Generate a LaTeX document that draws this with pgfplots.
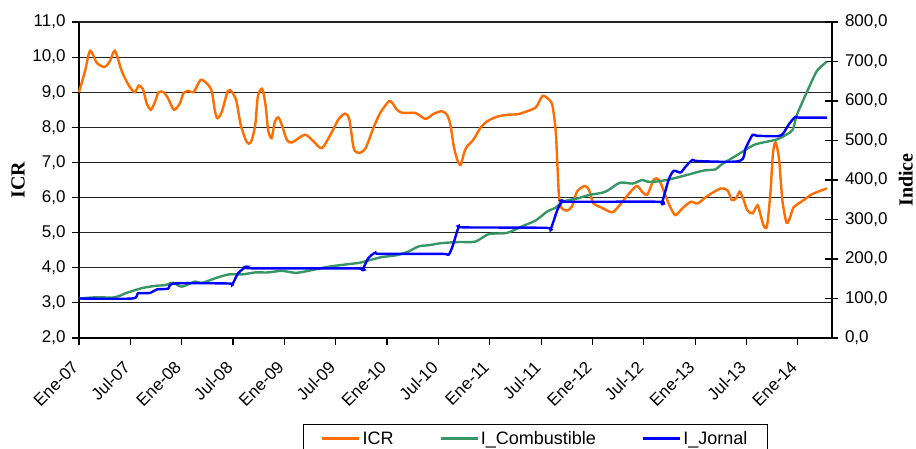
\documentclass[border=0pt]{standalone}
\usepackage{pgfplots}
\pgfplotsset{compat=1.18}
\usepackage{fontspec}
\setmainfont{Liberation Sans}
\newfontfamily\titlefont{Liberation Serif}
\definecolor{cicr}{RGB}{255,108,0}
\definecolor{ccomb}{RGB}{55,150,100}
\definecolor{cjor}{RGB}{0,0,255}
\newcommand{\tickfont}{\fontsize{17}{20}\selectfont}
\newcommand{\legfont}{\fontsize{18}{21}\selectfont}
\newcommand{\ttlfont}{\titlefont\bfseries\fontsize{20}{24}\selectfont}

\pgfplotstableread{
m v
0 9.0
0.7 9.6
1.3 10.18
2.1 9.83
3.0 9.72
3.6 9.88
4.2 10.18
5.0 9.6
5.8 9.2
6.5 9.0
7.0 9.19
7.5 9.07
7.9 8.69
8.4 8.5
8.9 8.74
9.3 9.0
9.9 9.0
10.4 8.83
11.1 8.5
11.8 8.69
12.2 8.97
12.8 9.04
13.4 9.0
14.2 9.35
14.9 9.26
15.5 9.04
15.9 8.45
16.2 8.26
16.7 8.45
17.4 9.04
17.9 9.0
18.4 8.74
18.9 8.07
19.6 7.58
20.1 7.58
20.6 8.07
20.9 8.88
21.4 9.1
21.8 8.64
22.1 7.93
22.5 7.69
22.9 8.17
23.3 8.28
23.7 8.07
24.3 7.64
24.9 7.57
26.4 7.79
27.4 7.6
28.4 7.41
29.6 7.89
30.3 8.22
31.1 8.39
31.6 8.22
32.1 7.41
32.7 7.27
33.5 7.41
34.4 7.98
35.2 8.41
36.2 8.74
36.6 8.7
37.2 8.49
37.9 8.41
39.3 8.41
40.5 8.24
41.4 8.38
42.4 8.46
43.0 8.36
43.4 8.08
43.8 7.46
44.2 7.08
44.6 6.93
45.0 7.27
45.3 7.44
46.1 7.65
46.9 7.98
47.7 8.17
48.8 8.30
50.1 8.36
51.4 8.38
53.3 8.55
53.7 8.7
54.2 8.9
54.7 8.84
55.3 8.65
55.7 7.93
55.9 6.98
56.1 6.03
56.4 5.70
57.0 5.63
57.6 5.74
58.2 6.17
59.1 6.33
59.6 6.22
60.1 5.84
61.1 5.71
62.3 5.58
63.1 5.76
64.3 6.12
65.2 6.33
65.8 6.17
66.4 6.08
67.2 6.52
67.8 6.50
68.5 6.08
69.1 5.73
69.7 5.5
70.5 5.69
71.5 5.88
72.3 5.83
73.4 6.04
75.0 6.26
75.8 6.2
76.3 5.93
76.8 5.98
77.2 6.17
77.6 5.98
78.1 5.64
78.7 5.55
79.3 5.78
79.6 5.55
80.0 5.21
80.4 5.18
80.8 6.12
81.1 7.26
81.4 7.57
81.8 7.12
82.2 5.93
82.7 5.28
83.2 5.5
83.5 5.72
84.7 5.93
85.7 6.1
87.4 6.26
}\icrdata

\pgfplotstableread{
m v
0 100
1.9 103
4.2 103
5.4 113
7.3 126
8.9 132
10.1 134
11.0 140
12.0 130
13.6 143
14.3 139
15.9 151
17.5 161
19.1 161
20.6 166
22.1 166
23.7 170
25.3 165
26.8 170
29.2 180.6
31.5 187
32.9 191
35.2 204
37.2 210
38.5 219
39.7 232
40.9 235
42.3 240
44.3 243
46.3 244
47.9 263
50.0 266
51.7 282
53.4 298
54.7 320
55.7 330
56.4 343
57.2 349
58.2 353
59.6 362
61.5 370
63.2 393
64.7 391
65.8 400
66.4 396
67.4 396
68.9 401
71.1 413
73.0 424
74.4 427
75.0 438
76.9 463
78.9 489
80.4 497
81.6 503
82.6 514
83.4 527
83.9 565
84.7 605
85.7 653
86.3 678
87.4 700
}\combdata

\pgfplotstableread{
m v
0 100
6.2 100
6.9 113
8.3 114
9.1 123
10.4 125
11.2 138
17.5 138
17.9 135
18.6 164
19.6 180.6
20.2 176.4
32.5 176
33.1 172.6
33.8 201.6
34.6 216
35.2 213
42.4 213
43.2 211
43.7 235
44.4 282
45.0 280
54.5 279
55.1 275
55.9 324
56.5 347.7
57.0 345
67.7 345
68.1 341
68.9 400
69.5 423
70.3 419
70.9 434
71.7 451
72.3 448
77.2 448
77.9 480
78.7 514
79.2 512
81.7 511
82.3 518
82.9 539
83.7 560
84.1 558
87.4 558
}\jordata

\begin{document}
\begin{tikzpicture}
\begin{axis}[
  scale only axis, width=753pt, height=316pt,
  xmin=0, xmax=88, ymin=2, ymax=11,
  axis x line*=bottom, axis y line*=left,
  axis line style={black, line width=1.2pt, -},
  xtick={0,6,...,84},
  xticklabels={Ene-07,Jul-07,Ene-08,Jul-08,Ene-09,Jul-09,Ene-10,Jul-10,Ene-11,Jul-11,Ene-12,Jul-12,Ene-13,Jul-13,Ene-14},
  ytick={2,3,...,11},
  ymajorgrids,
  major grid style={black!85, line width=1.1pt},
  tick align=outside, major tick length=7pt,
  tick style={black, line width=1.1pt},
  yticklabel style={xshift=-3pt, /pgf/number format/.cd, fixed, fixed zerofill, precision=1, use comma, assume math mode=true},
  ticklabel style={font=\tickfont},
  xticklabel style={xshift=-8pt, yshift=-12pt, rotate=45, anchor=north east, inner sep=2pt},
  ylabel={\ttlfont ICR},
  every axis y label/.style={at={(axis description cs:-0.081,0.5)}, rotate=90, anchor=center},
  clip=false,
]
\addplot[cicr, line width=2.4pt, smooth, tension=0.45] table[x=m, y=v] {\icrdata};
\coordinate (ll) at (rel axis cs:0,0);
\end{axis}
\begin{axis}[
  scale only axis, width=753pt, height=316pt,
  xmin=0, xmax=88, ymin=0, ymax=800,
  axis x line=none, axis y line*=right,
  axis line style={black, line width=1.2pt, -},
  ytick={0,100,...,800},
  tick align=center, major tick length=13pt,
  tick style={black, line width=1.1pt},
  yticklabel style={xshift=3pt, /pgf/number format/.cd, fixed, fixed zerofill, precision=1, use comma, assume math mode=true},
  ticklabel style={font=\tickfont},
  ylabel={\ttlfont Indice},
  every axis y label/.style={at={(axis description cs:1.098,0.5)}, rotate=90, anchor=center},
  legend columns=3,
  legend style={at={(axis description cs:0.606,-0.272)}, anchor=north, draw=black, line width=0.8pt, font=\legfont, inner xsep=18pt, inner ysep=5pt,
    /tikz/every even column/.append style={column sep=44pt}},
  legend image code/.code={\draw[#1, line width=2.4pt] (0pt,0pt) -- (37pt,0pt);},
  clip=false,
]
\addlegendimage{cicr}
\addlegendentry{ICR}
\addplot[ccomb, line width=2.4pt, smooth, tension=0.45] table[x=m, y=v] {\combdata};
\addlegendentry{I\_Combustible}
\addplot[cjor, line width=2.4pt, smooth, tension=0.45] table[x=m, y=v] {\jordata};
\addlegendentry{I\_Jornal}
\end{axis}
\pgfresetboundingbox
\path[use as bounding box] ([xshift=-79pt,yshift=-110pt]ll) rectangle ([xshift=837pt,yshift=338pt]ll);
\end{tikzpicture}
\end{document}
